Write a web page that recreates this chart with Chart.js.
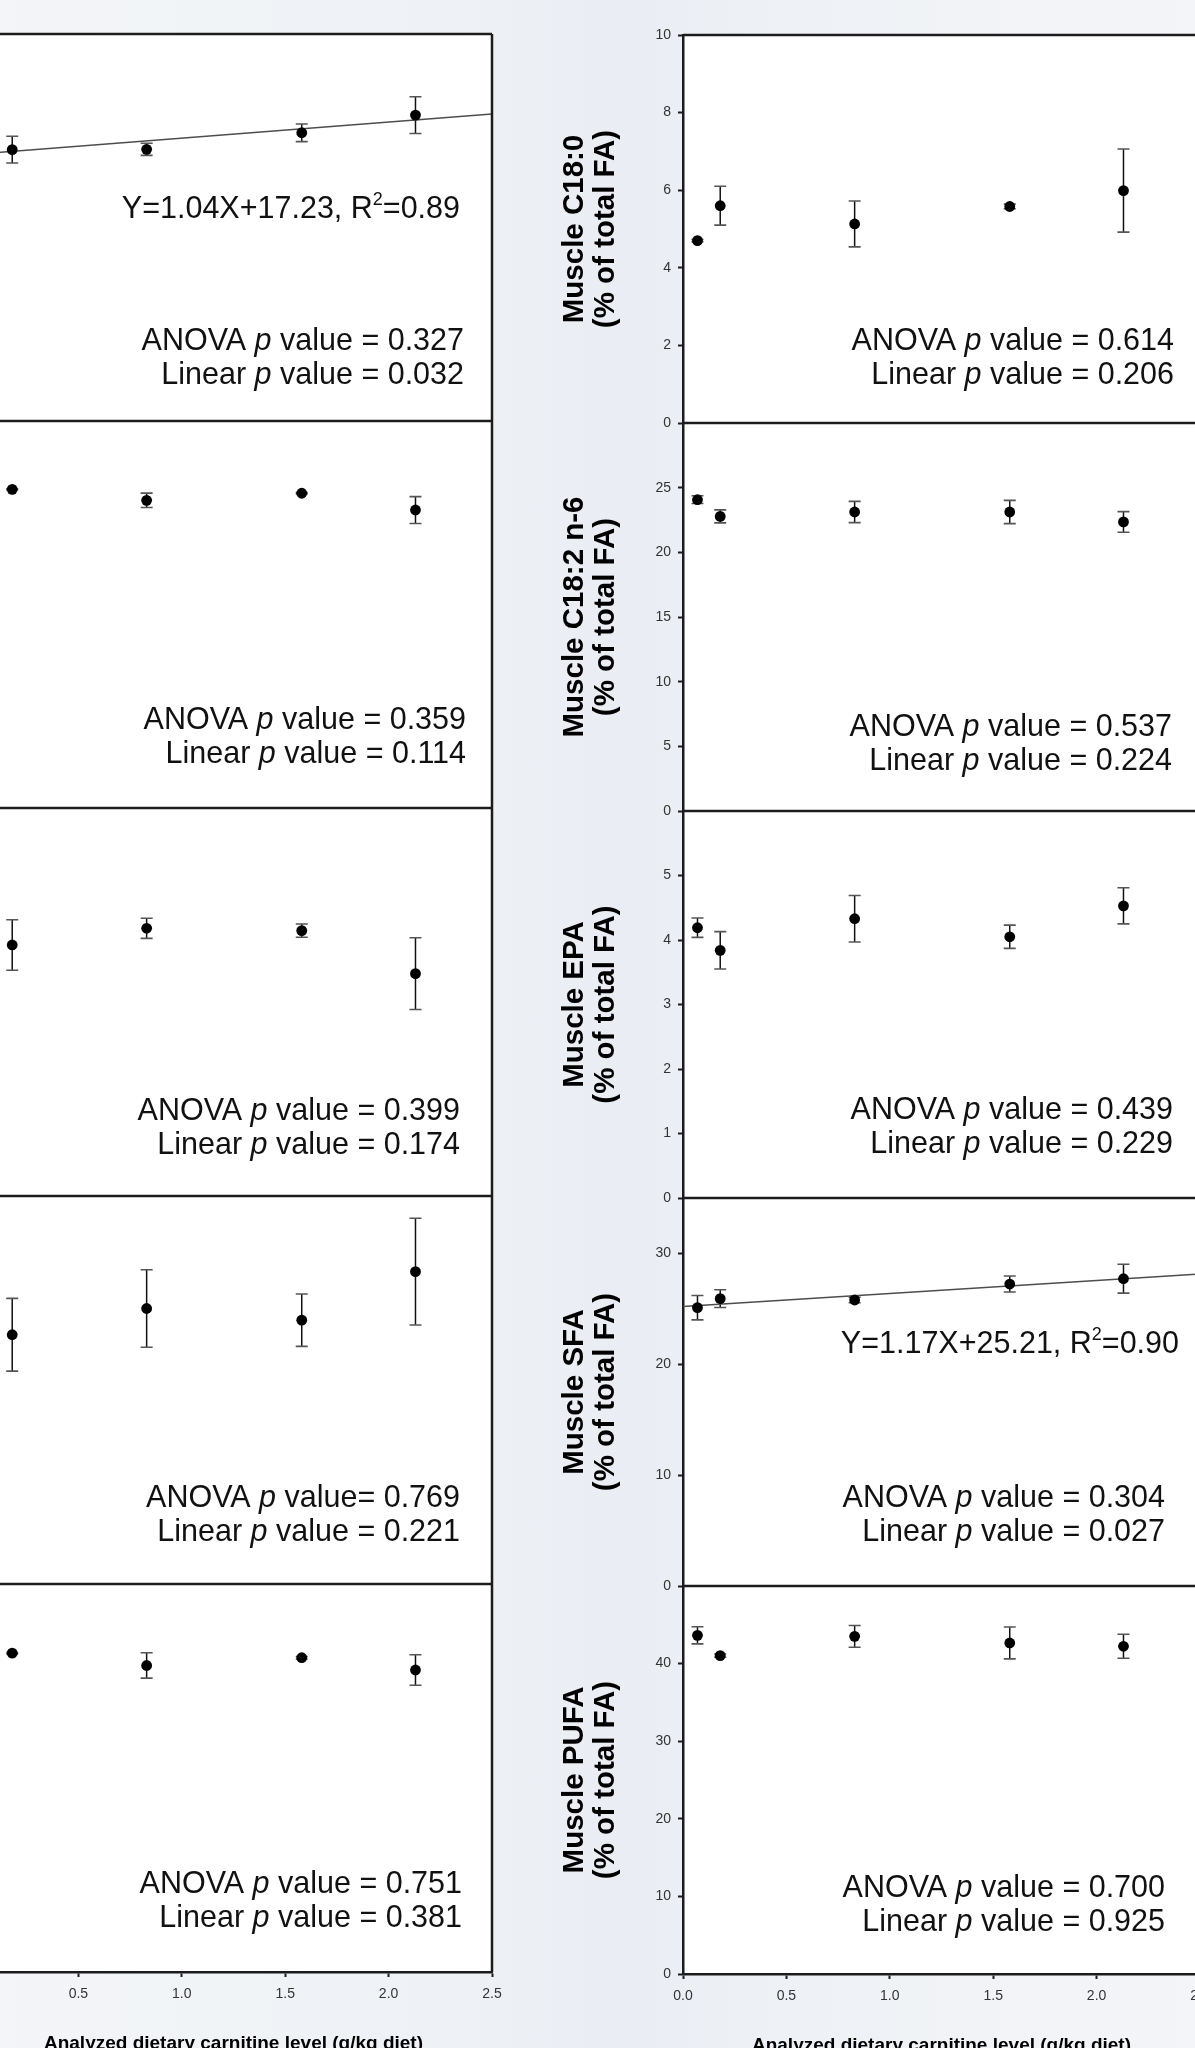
<!DOCTYPE html>
<html>
<head>
<meta charset="utf-8">
<script src="https://cdn.jsdelivr.net/npm/chart.js@4.4.1/dist/chart.umd.min.js"></script>
<style>
  html, body { margin: 0; padding: 0; }
  body {
    width: 1195px;
    height: 2048px;
    overflow: hidden;
    position: relative;
    background: linear-gradient(90deg, #f3f5f8 0%, #eef1f5 38%, #eaedf3 52%, #eef1f5 66%, #f4f5f8 100%);
  }
  canvas { position: absolute; }
</style>
</head>
<body>
<script>
// Analyzed dietary carnitine level (g/kg diet) of the five diets
const carnitineLevels = [0.07, 0.18, 0.83, 1.58, 2.13];
const xTicks = [0, 0.5, 1.0, 1.5, 2.0, 2.5];
const xTitle = 'Analyzed dietary carnitine level (g/kg diet)';

// Right column: means and SE (% of total FA)
const c180Mean = [4.70, 5.60, 5.13, 5.58, 5.99];
const c180SE = [0.03, 0.50, 0.59, 0.06, 1.07];
const c180Ticks = [0, 2, 4, 6, 8, 10];

const c182n6Mean = [24.07, 22.78, 23.12, 23.12, 22.35];
const c182n6SE = [0.30, 0.50, 0.82, 0.90, 0.80];
const c182n6Ticks = [0, 5, 10, 15, 20, 25];

const epaMean = [4.19, 3.84, 4.33, 4.05, 4.53];
const epaSE = [0.15, 0.29, 0.36, 0.18, 0.28];
const epaTicks = [0, 1, 2, 3, 4, 5];

const sfaMean = [25.11, 25.92, 25.80, 27.24, 27.72];
const sfaSE = [1.10, 0.80, 0.25, 0.72, 1.30];
const sfaTicks = [0, 10, 20, 30];

const pufaMean = [43.64, 41.03, 43.51, 42.66, 42.23];
const pufaSE = [1.10, 0.20, 1.40, 2.05, 1.55];
const pufaTicks = [0, 10, 20, 30, 40];

// Left column (its y axes fall outside the crop; first diet is off the picture too)
const left1Mean = [null, 17.53, 17.55, 18.62, 19.76];
const left1SE = [null, 0.86, 0.39, 0.57, 1.19];
const left2Mean = [null, 24.70, 23.85, 24.40, 23.10];
const left2SE = [null, 0.05, 0.56, 0.05, 1.04];
const left3Mean = [null, 12.94, 13.80, 13.68, 11.46];
const left3SE = [null, 1.30, 0.52, 0.34, 1.85];
const left4Mean = [null, 25.70, 28.40, 27.20, 32.20];
const left4SE = [null, 3.75, 4.00, 2.70, 5.50];
const left5Mean = [null, 24.65, 23.70, 24.30, 23.35];
const left5SE = [null, 0.05, 0.98, 0.10, 1.18];

// Linear fits printed on the figure
const left1Fit = { slope: 1.04, intercept: 17.23, r2: 0.89 };
const sfaFit = { slope: 1.17, intercept: 25.21, r2: 0.90 };

const rightPanels = [
  { title: ['Muscle C18:0', '(% of total FA)'], mean: c180Mean, se: c180SE, ticks: c180Ticks, max: 10,
    notes: ['ANOVA p value = 0.614', 'Linear p value = 0.206'] },
  { title: ['Muscle C18:2 n-6', '(% of total FA)'], mean: c182n6Mean, se: c182n6SE, ticks: c182n6Ticks, max: 30,
    notes: ['ANOVA p value = 0.537', 'Linear p value = 0.224'] },
  { title: ['Muscle EPA', '(% of total FA)'], mean: epaMean, se: epaSE, ticks: epaTicks, max: 6,
    notes: ['ANOVA p value = 0.439', 'Linear p value = 0.229'] },
  { title: ['Muscle SFA', '(% of total FA)'], mean: sfaMean, se: sfaSE, ticks: sfaTicks, max: 35, fit: sfaFit,
    notes: ['ANOVA p value = 0.304', 'Linear p value = 0.027'] },
  { title: ['Muscle PUFA', '(% of total FA)'], mean: pufaMean, se: pufaSE, ticks: pufaTicks, max: 50,
    notes: ['ANOVA p value = 0.700', 'Linear p value = 0.925'] }
];

const leftPanels = [
  { mean: left1Mean, se: left1SE, max: 25, fit: left1Fit,
    notes: ['ANOVA p value = 0.327', 'Linear p value = 0.032'] },
  { mean: left2Mean, se: left2SE, max: 30,
    notes: ['ANOVA p value = 0.359', 'Linear p value = 0.114'] },
  { mean: left3Mean, se: left3SE, max: 20,
    notes: ['ANOVA p value = 0.399', 'Linear p value = 0.174'] },
  { mean: left4Mean, se: left4SE, max: 40,
    notes: ['ANOVA p value= 0.769', 'Linear p value = 0.221'] },
  { mean: left5Mean, se: left5SE, max: 30,
    notes: ['ANOVA p value = 0.751', 'Linear p value = 0.381'] }
];

// Layout of the crop
const FONT = '"Liberation Sans", Arial, Helvetica, sans-serif';
const columns = {
  left: {
    canvasLeft: -40, axisWidth: 15, plotRight: 492,
    tops: [34, 421, 808, 1196, 1584, 1972],
    noteRight: [28, 26, 32, 32, 30],
    noteTop: [308, 300, 304, 303, 301],
    fitLabel: { right: 32, top: 176 }
  },
  right: {
    canvasLeft: 540, axisWidth: 143, plotRight: 1200,
    tops: [35, 423, 811, 1198, 1586, 1974],
    noteRight: [26, 28, 27, 35, 35],
    noteTop: [307, 305, 300, 301, 303],
    fitLabel: { right: 21, top: 147 }
  }
};
const PAD_TOP = 12, PAD_BOTTOM = 10, PAD_RIGHT = 16, X_AXIS_H = 83;
const NOTE_SIZE = 30.5;
const LINE_COLOR = '#1c1c1c';

// draws text pieces right-aligned, "p" in italics, superscripts raised
function drawRich(ctx, parts, xRight, y) {
  const fontFor = p => (p.italic ? 'italic ' : '') + (p.sup ? 18 : NOTE_SIZE) + 'px ' + FONT;
  let total = 0;
  parts.forEach(p => { ctx.font = fontFor(p); p.w = ctx.measureText(p.t).width; total += p.w; });
  let x = xRight - total;
  parts.forEach(p => {
    ctx.font = fontFor(p);
    ctx.fillText(p.t, x, p.sup ? y - 10 : y);
    x += p.w;
  });
}

const panelDecor = {
  id: 'panelDecor',
  beforeDraw(chart) {
    const { ctx, chartArea: a } = chart;
    ctx.save();
    ctx.fillStyle = '#ffffff';
    ctx.fillRect(a.left, a.top, a.right - a.left, a.bottom - a.top);
    ctx.restore();
  },
  beforeDatasetsDraw(chart) {
    const { ctx, scales: { x, y } } = chart;
    const ds = chart.data.datasets[0];
    ctx.save();
    ds.data.forEach(p => {
      const px = x.getPixelForValue(p.x);
      const hi = y.getPixelForValue(p.y + p.se);
      const lo = y.getPixelForValue(p.y - p.se);
      ctx.strokeStyle = '#111';
      ctx.lineWidth = 1.5;
      ctx.beginPath(); ctx.moveTo(px, hi); ctx.lineTo(px, lo); ctx.stroke();
      ctx.strokeStyle = '#555';
      ctx.lineWidth = 1.6;
      ctx.beginPath();
      ctx.moveTo(px - 6, hi); ctx.lineTo(px + 6, hi);
      ctx.moveTo(px - 6, lo); ctx.lineTo(px + 6, lo);
      ctx.stroke();
    });
    ctx.restore();
  },
  afterDraw(chart) {
    const { ctx, chartArea: a } = chart;
    const o = chart.options.plugins.panelDecor;
    ctx.save();
    // top and right edges of the panel box
    ctx.strokeStyle = LINE_COLOR;
    ctx.lineWidth = 2.5;
    ctx.beginPath();
    ctx.moveTo(a.left, a.top); ctx.lineTo(a.right, a.top);
    ctx.moveTo(a.right, a.top); ctx.lineTo(a.right, a.bottom);
    ctx.stroke();

    ctx.fillStyle = '#111';
    ctx.textBaseline = 'middle';
    o.notes.forEach((line, k) => {
      const [head, tail] = line.split(' p ');
      drawRich(ctx, [{ t: head + ' ' }, { t: 'p', italic: true }, { t: ' ' + tail }],
        a.right - o.noteRight, a.top + o.noteTop + k * 34);
    });
    if (o.fit) {
      const f = o.fit;
      drawRich(ctx, [
        { t: 'Y=' + f.slope.toFixed(2) + 'X+' + f.intercept.toFixed(2) + ', R' },
        { t: '2', sup: true },
        { t: '=' + f.r2.toFixed(2) }
      ], a.right - o.fitLabel.right, a.top + o.fitLabel.top);
    }
    ctx.restore();
  }
};

function makePanel(colName, i, panel) {
  const c = columns[colName];
  const last = i === 4;
  const top = c.tops[i];
  const bottom = c.tops[i + 1];
  const canvas = document.createElement('canvas');
  canvas.width = c.plotRight - c.canvasLeft + PAD_RIGHT;
  canvas.height = PAD_TOP + (bottom - top) + (last ? X_AXIS_H : PAD_BOTTOM);
  canvas.style.left = c.canvasLeft + 'px';
  canvas.style.top = (top - PAD_TOP) + 'px';
  document.body.appendChild(canvas);

  const points = [];
  carnitineLevels.forEach((x, k) => {
    if (panel.mean[k] !== null) points.push({ x: x, y: panel.mean[k], se: panel.se[k] });
  });

  const datasets = [{
    data: points,
    backgroundColor: '#000',
    borderWidth: 0,
    pointRadius: 5.4,
    order: 0
  }];
  if (panel.fit) {
    const ends = [xTicks[0], xTicks[xTicks.length - 1]];
    datasets.push({
      type: 'line',
      data: ends.map(x => ({ x: x, y: panel.fit.intercept + panel.fit.slope * x })),
      borderColor: '#4d4d4d',
      borderWidth: 1.5,
      pointRadius: 0,
      order: 1
    });
  }

  const isRight = colName === 'right';

  new Chart(canvas, {
    type: 'scatter',
    data: { datasets },
    options: {
      responsive: false,
      animation: false,
      devicePixelRatio: 1,
      events: [],
      layout: {
        autoPadding: false,
        padding: { top: PAD_TOP, bottom: last ? 0 : PAD_BOTTOM, left: 0, right: PAD_RIGHT }
      },
      plugins: {
        legend: { display: false },
        tooltip: { enabled: false },
        panelDecor: {
          notes: panel.notes,
          noteRight: c.noteRight[i],
          noteTop: c.noteTop[i],
          fit: panel.fit,
          fitLabel: c.fitLabel
        }
      },
      scales: {
        x: {
          type: 'linear',
          min: xTicks[0],
          max: xTicks[xTicks.length - 1],
          afterBuildTicks: s => { s.ticks = xTicks.map(v => ({ value: v })); },
          ticks: {
            display: last,
            callback: v => v.toFixed(1),
            font: { family: FONT, size: 14 },
            color: '#333',
            padding: 9,
            maxRotation: 0
          },
          grid: {
            display: true,
            drawOnChartArea: false,
            drawTicks: last,
            tickLength: 5,
            tickWidth: 2,
            tickColor: LINE_COLOR
          },
          border: { display: true, width: 2.5, color: LINE_COLOR },
          title: {
            display: last,
            text: xTitle,
            font: { family: FONT, size: 19, weight: 'bold' },
            color: '#000',
            padding: { top: 0, bottom: 0 }
          },
          afterFit: s => { s.height = last ? X_AXIS_H : 0; s.paddingLeft = 0; s.paddingRight = 0; }
        },
        y: {
          type: 'linear',
          min: 0,
          max: panel.max,
          afterBuildTicks: s => { if (isRight) s.ticks = panel.ticks.map(v => ({ value: v })); },
          ticks: {
            display: isRight,
            font: { family: FONT, size: 14 },
            color: '#333',
            padding: 7
          },
          grid: {
            display: true,
            drawOnChartArea: false,
            drawTicks: isRight,
            tickLength: 5,
            tickWidth: 2,
            tickColor: LINE_COLOR
          },
          border: { display: true, width: 2.5, color: LINE_COLOR },
          title: {
            display: isRight,
            text: panel.title || '',
            font: { family: FONT, size: 29.5, weight: 'bold', lineHeight: 1.06 },
            color: '#000',
            padding: { top: 19, bottom: 0 }
          },
          afterFit: s => { s.width = c.axisWidth; s.paddingTop = 0; s.paddingBottom = 0; }
        }
      }
    },
    plugins: [panelDecor]
  });
}

leftPanels.forEach((p, i) => makePanel('left', i, p));
rightPanels.forEach((p, i) => makePanel('right', i, p));
</script>
</body>
</html>
